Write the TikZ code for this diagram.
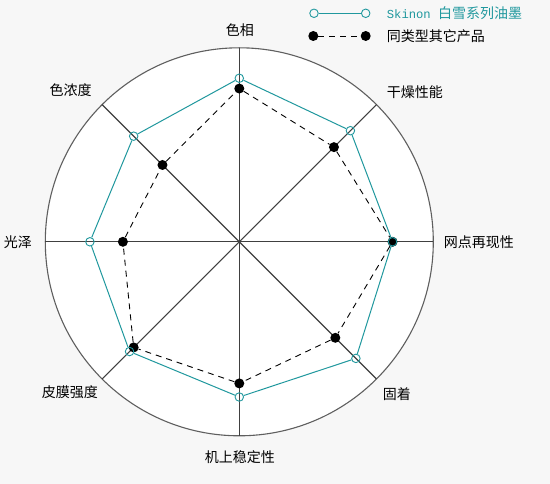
\documentclass[tikz,border=0pt]{standalone}
\usepackage{fontspec}
\newfontfamily\cjk{Noto Sans CJK SC}
\setmonofont{Liberation Mono}
\usetikzlibrary{positioning}
\definecolor{skteal}{RGB}{32,152,158}
\definecolor{bggray}{RGB}{247,247,247}
\definecolor{rimgray}{RGB}{95,95,95}
\tikzset{
  axis_lbl/.style = {font=\cjk\fontsize{14}{16}\selectfont, inner sep=0pt},
  axis_line/.style = {draw=black!75, line width=1.1pt},
  sk_pt/.style = {circle, draw=skteal, inner sep=0pt, minimum size=8.5pt,
    line width=0.9pt},% Skinon, rond ouvert
  ot_pt/.style = {circle, fill=black, inner sep=0pt, minimum size=10pt},% autre produit
  sk_line/.style = {draw=skteal, line width=1pt},
  ot_line/.style = {draw=black, line width=0.9pt, dash pattern=on 6pt off 5pt}
}

\begin{document}
\begin{tikzpicture}[x=1pt, y=1pt]
\fill[bggray] (-239.3,-242.2) rectangle (310.7,241.8);
\useasboundingbox (-239.3,-242.2) rectangle (310.7,241.8);
\coordinate (O) at (0,0);
\draw[draw=rimgray, fill=white, line width=1.1pt] (O) circle (194pt);
% axes
\foreach \a [count=\i] in {90,45,0,-45,-90,-135,180,135}
  {\coordinate (ax\i) at (\a:194pt);
   \draw[axis_line] (O) -- (ax\i);}
% labels
\node[axis_lbl] (l1) at (0.7,211.8) {色相};
\node[axis_lbl] (l2) at (175.7,149.8) {干燥性能};
\node[axis_lbl] (l3) at (239.7,0) {网点再现性};
\node[axis_lbl] (l4) at (157.7,-152.2) {固着};
\node[axis_lbl] (l5) at (0.7,-215.2) {机上稳定性};
\node[axis_lbl] (l6) at (-169.3,-150.9) {皮膜强度};
\node[axis_lbl] (l7) at (-221.3,0) {光泽};
\node[axis_lbl] (l8) at (-168.6,151.8) {色浓度};
% autre produit
\foreach \a/\v [count=\i] in {90/0.79,45/0.69,0/0.79,-45/0.70,-90/0.73,-135/0.77,180/0.60,135/0.56}
  \node[ot_pt] (o\i) at (\a:{\v*194pt}) {};
\draw[ot_line] (o1) -- (o2) -- (o3) -- (o4) -- (o5) -- (o6) -- (o7) -- (o8) -- (o1);
% Skinon
\foreach \a/\v [count=\i] in {90/0.843,45/0.81,0/0.79,-45/0.85,-90/0.80,-135/0.80,180/0.77,135/0.77}
  \node[sk_pt] (s\i) at (\a:{\v*194pt}) {};
\draw[sk_line] (s1) -- (s2) -- (s3) -- (s4) -- (s5) -- (s6) -- (s7) -- (s8) -- (s1);
% legende
\node[sk_pt] (lg_s1) at (74.7,228.5) {};
\node[sk_pt] (lg_s2) at (126.4,228.5) {};
\draw[sk_line] (lg_s1) -- (lg_s2);
\node[axis_lbl, anchor=west, text=skteal] (lg_st) at (147.4,228.5)
  {{\ttfamily\fontsize{12.2}{14}\selectfont Skinon }白雪系列油墨};
\node[ot_pt] (lg_o1) at (74,205.8) {};
\node[ot_pt] (lg_o2) at (126.4,205.8) {};
\draw[ot_line] (lg_o1) -- (lg_o2);
\node[axis_lbl, anchor=west] (lg_ot) at (147.4,205.8) {同类型其它产品};
\end{tikzpicture}
\end{document}
